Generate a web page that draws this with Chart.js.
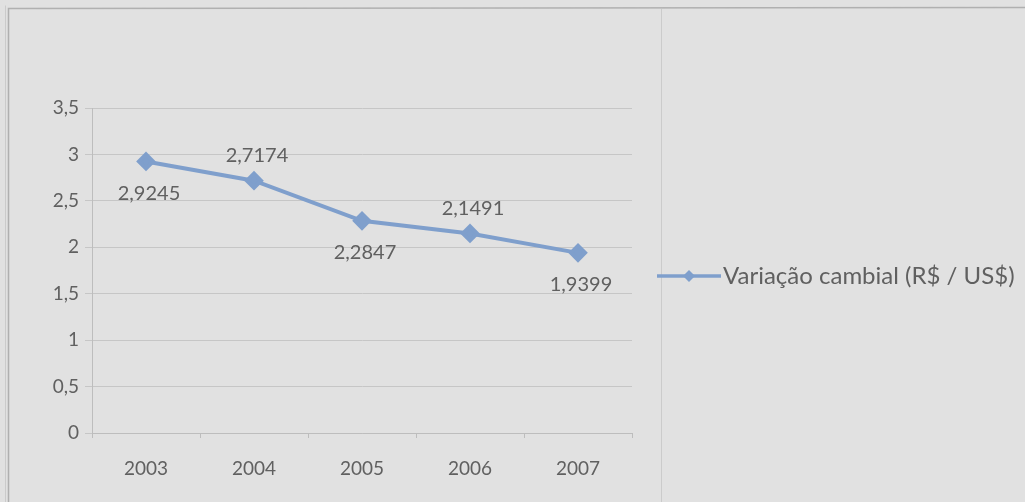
<!DOCTYPE html>
<html>
<head>
<meta charset="utf-8">
<script src="https://cdn.jsdelivr.net/npm/chart.js@4/dist/chart.umd.min.js"></script>
<style>
  html, body { margin: 0; padding: 0; background: #e1e1e1; }
  #wrap { width: 1025px; height: 502px; position: relative; }
</style>
</head>
<body>
<div id="wrap"><canvas id="c" width="1025" height="502"></canvas></div>
<script>
// Exchange rate by year
const years = ['2003', '2004', '2005', '2006', '2007'];
const rates = [2.9245, 2.7174, 2.2847, 2.1491, 1.9399];
// where each value label sits relative to its point
const labelSides = ['below', 'above', 'below', 'above', 'below'];
const seriesName = 'Variação cambial (R$ / US$)';
const yTicks = [0, 0.5, 1, 1.5, 2, 2.5, 3, 3.5];

const fontFamily = "Lato, 'Open Sans', sans-serif";
const textColor = '#606060';
const lineColor = '#7f9fcc';

const fmt = v => String(v).replace('.', ',');

// Background panel and frame lines
const framePlugin = {
  id: 'frame',
  beforeDraw(chart) {
    const ctx = chart.ctx;
    ctx.save();
    ctx.fillStyle = '#e1e1e1';
    ctx.fillRect(0, 0, chart.width, chart.height);
    ctx.strokeStyle = '#b0b0b0';
    ctx.lineWidth = 1.5;
    ctx.beginPath();
    ctx.moveTo(8.5, chart.height);
    ctx.lineTo(8.5, 8.5);
    ctx.lineTo(chart.width, 7.5);
    ctx.stroke();
    ctx.strokeStyle = '#cbcbcb';
    ctx.lineWidth = 1;
    ctx.beginPath();
    ctx.moveTo(5.5, chart.height);
    ctx.lineTo(5.5, 5.5);
    ctx.moveTo(661.5, 9);
    ctx.lineTo(661.5, chart.height);
    ctx.stroke();
    ctx.restore();
  }
};

// Value labels next to each point
const valueLabels = {
  id: 'valueLabels',
  afterDatasetsDraw(chart) {
    const ctx = chart.ctx;
    const meta = chart.getDatasetMeta(0);
    ctx.save();
    ctx.font = '20px ' + fontFamily;
    ctx.fillStyle = textColor;
    ctx.textAlign = 'center';
    ctx.textBaseline = 'middle';
    meta.data.forEach((pt, i) => {
      const dy = labelSides[i] === 'above' ? -25 : 32;
      ctx.fillText(fmt(rates[i]), pt.x + 3, pt.y + dy);
    });
    ctx.restore();
  }
};

// Legend drawn on the right of the plot
const sideLegend = {
  id: 'sideLegend',
  afterDraw(chart) {
    const ctx = chart.ctx;
    const ds = chart.data.datasets[0];
    const y = 276;
    const x0 = 657, x1 = 721;
    ctx.save();
    ctx.strokeStyle = ds.borderColor;
    ctx.lineWidth = 3.5;
    ctx.beginPath();
    ctx.moveTo(x0, y);
    ctx.lineTo(x1, y);
    ctx.stroke();
    const cx = (x0 + x1) / 2, r = 6;
    ctx.fillStyle = ds.pointBackgroundColor;
    ctx.beginPath();
    ctx.moveTo(cx, y - r);
    ctx.lineTo(cx + r, y);
    ctx.lineTo(cx, y + r);
    ctx.lineTo(cx - r, y);
    ctx.closePath();
    ctx.fill();
    ctx.font = '24px ' + fontFamily;
    ctx.fillStyle = textColor;
    ctx.textAlign = 'left';
    ctx.textBaseline = 'middle';
    ctx.fillText(ds.label, x1 + 2, y);
    ctx.restore();
  }
};

new Chart(document.getElementById('c'), {
  type: 'line',
  data: {
    labels: years,
    datasets: [{
      label: seriesName,
      data: rates,
      borderColor: lineColor,
      backgroundColor: lineColor,
      pointBackgroundColor: lineColor,
      pointBorderColor: lineColor,
      borderWidth: 4,
      pointStyle: 'rectRot',
      pointRadius: 7,
      tension: 0
    }]
  },
  options: {
    responsive: false,
    animation: false,
    layout: { padding: { left: 0, top: 108, right: 393, bottom: 0 } },
    plugins: {
      legend: { display: false },
      tooltip: { enabled: false }
    },
    scales: {
      x: {
        offset: true,
        grid: {
          offset: true,
          drawOnChartArea: false,
          drawTicks: true,
          tickLength: 5,
          color: '#bdbdbd'
        },
        border: { display: true, color: '#bdbdbd', width: 1 },
        ticks: {
          color: textColor,
          font: { family: fontFamily, size: 19 },
          padding: 19
        },
        afterFit(scale) { scale.height = 69; }
      },
      y: {
        min: 0,
        max: 3.5,
        afterBuildTicks(scale) { scale.ticks = yTicks.map(v => ({ value: v })); },
        grid: {
          color: '#c6c6c6',
          drawTicks: true,
          tickLength: 7
        },
        border: { display: true, color: '#bdbdbd', width: 1 },
        ticks: {
          color: textColor,
          font: { family: fontFamily, size: 19 },
          padding: 6,
          callback: v => fmt(v)
        },
        afterFit(scale) { scale.width = 92; }
      }
    }
  },
  plugins: [framePlugin, valueLabels, sideLegend]
});
</script>
</body>
</html>
